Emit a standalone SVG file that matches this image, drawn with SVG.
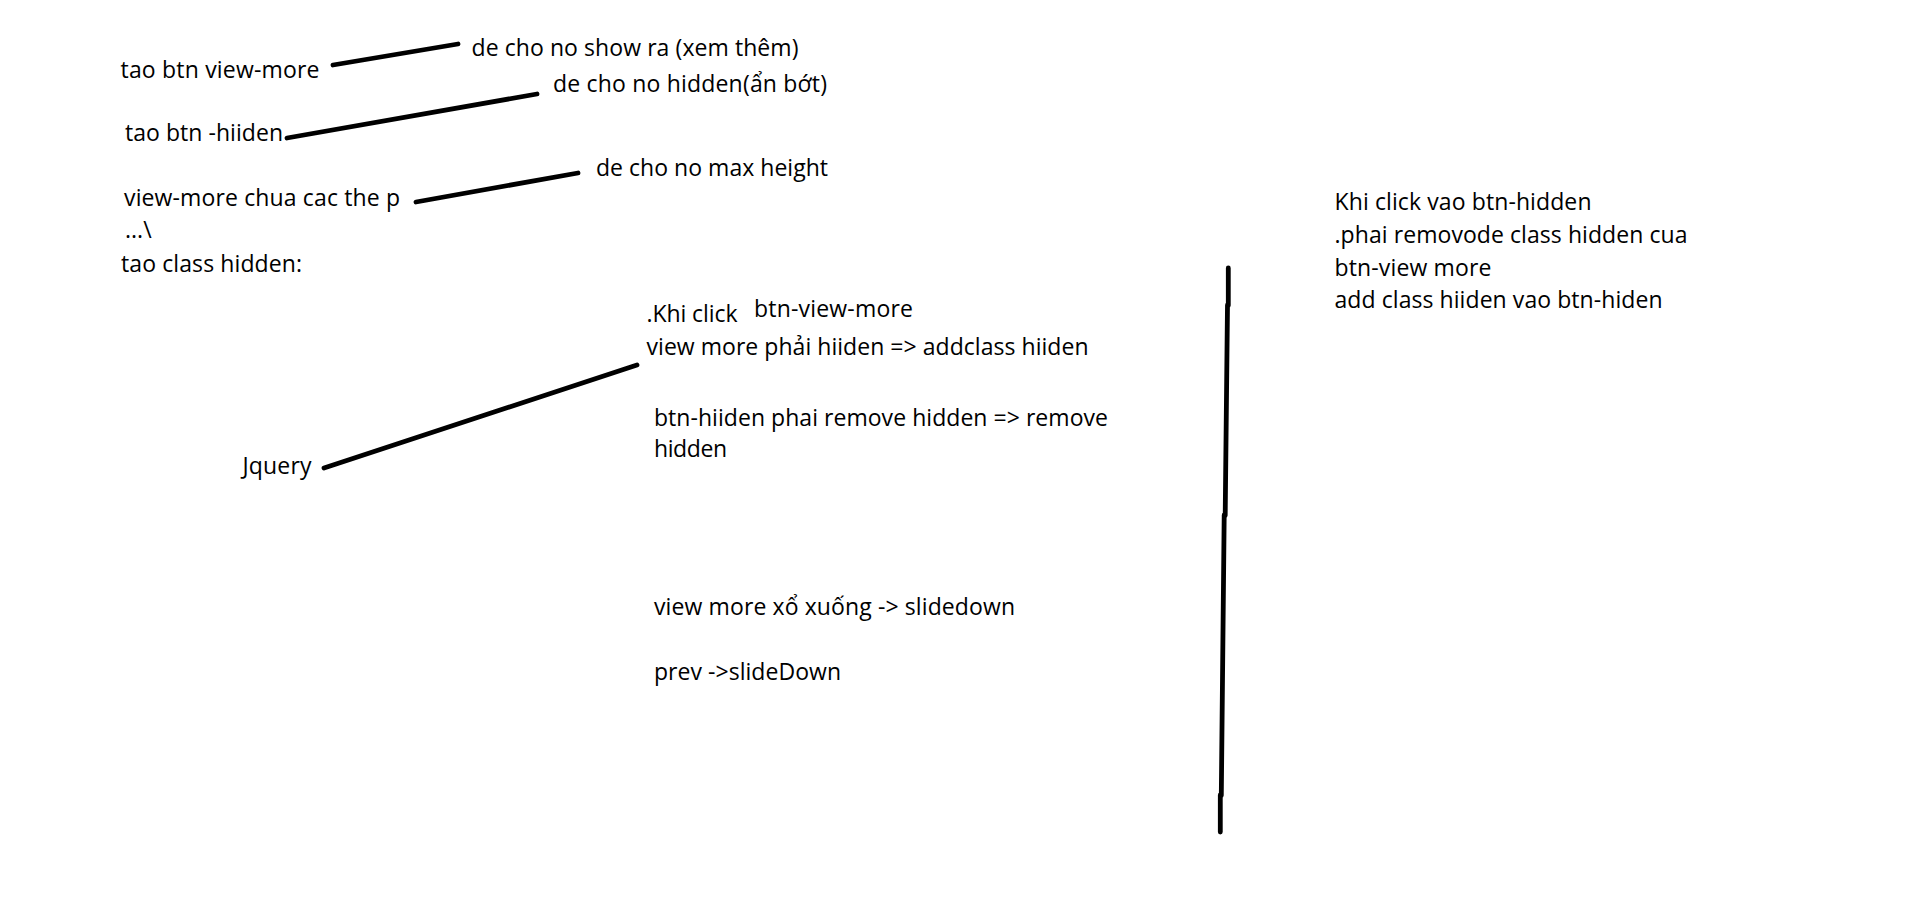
<svg xmlns="http://www.w3.org/2000/svg" width="1914" height="903" viewBox="0 0 1914 903">
<style>
  text { font-family: "Open Sans", "Noto Sans", "Liberation Sans", sans-serif; font-size: 23px; fill: #000; }
  .wire { stroke: #000; stroke-width: 4.8; stroke-linecap: round; fill: none; }
</style>
<rect width="1914" height="903" fill="#fff"/>
<g id="connectors">
  <line class="wire" x1="333" y1="65" x2="458" y2="44"/>
  <line class="wire" x1="287" y1="138" x2="537" y2="94"/>
  <line class="wire" x1="416" y1="202" x2="578" y2="173"/>
  <line class="wire" x1="324" y1="468" x2="637" y2="365"/>
  <path class="wire" stroke-linecap="butt" d="M1228.3,268 L1228.3,305.5 M1227.5,305 L1225.2,515.5 M1224.2,515 L1221.3,795.5 M1220.3,795 L1220.3,832"/>
</g>
<g id="node-btn-view-more"><text x="120.5" y="77.5" textLength="199">tao btn view-more</text></g>
<g id="node-show-ra"><text x="471.5" y="56" textLength="327">de cho no show ra (xem thêm)</text></g>
<g id="node-btn-hiiden"><text x="125" y="141" textLength="158">tao btn -hiiden</text></g>
<g id="node-an-bot"><text x="553" y="92" textLength="274">de cho no hidden(ẩn bớt)</text></g>
<g id="node-view-more-p"><text x="124" y="205.5" textLength="276">view-more chua cac the p</text>
  <text x="125" y="238">...\</text></g>
<g id="node-max-height"><text x="596" y="176" textLength="232">de cho no max height</text></g>
<g id="node-class-hidden"><text x="121" y="271.5" textLength="181">tao class hidden:</text></g>
<g id="node-jquery"><text x="242.5" y="474" textLength="69">Jquery</text></g>
<g id="node-khi-click">
  <text x="646.5" y="322.3" textLength="91">.Khi click</text>
  <text x="754" y="317.3" textLength="159">btn-view-more</text>
  <text x="646.5" y="355" textLength="442">view more phải hiiden =&gt; addclass hiiden</text>
  <text x="654" y="425.7" textLength="454">btn-hiiden phai remove hidden =&gt; remove</text>
  <text x="654" y="456.7" textLength="73">hidden</text>
</g>
<g id="node-slidedown">
  <text x="654" y="615" textLength="361">view more xổ xuống -&gt; slidedown</text>
  <text x="654" y="680" textLength="187">prev -&gt;slideDown</text>
</g>
<g id="node-btn-hidden-click">
  <text x="1334.5" y="210" textLength="257">Khi click vao btn-hidden</text>
  <text x="1334.5" y="243" textLength="353">.phai removode class hidden cua</text>
  <text x="1334.5" y="276" textLength="157">btn-view more</text>
  <text x="1334.5" y="308" textLength="328">add class hiiden vao btn-hiden</text>
</g>
</svg>
